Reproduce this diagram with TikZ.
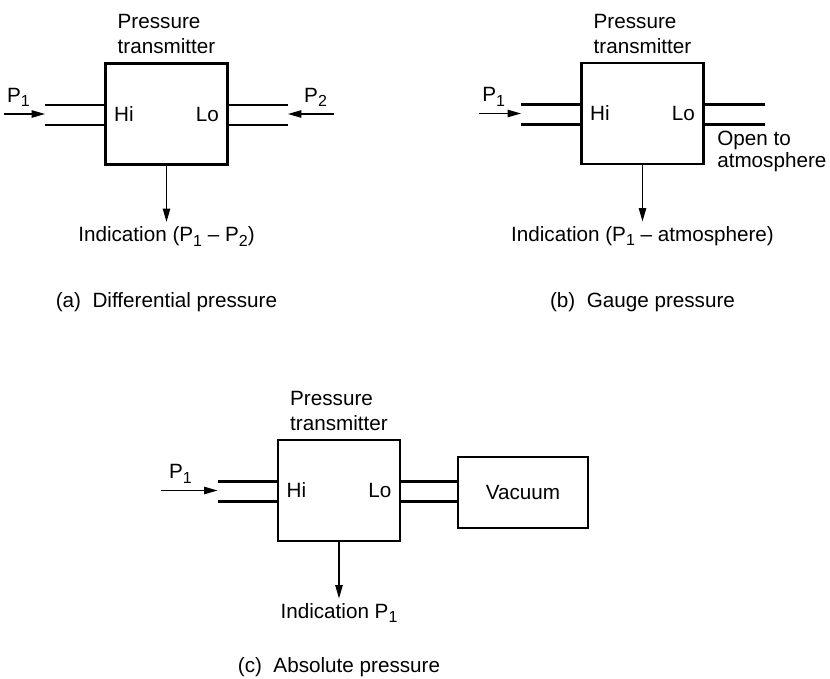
\documentclass[tikz,border=0pt]{standalone}
\usepackage{fontspec}
\setmainfont{Liberation Sans}
\usetikzlibrary{arrows.meta,positioning}
\newcommand\psub[1]{\raisebox{-3.5pt}{\fontsize{12}{12}\selectfont #1}}

\begin{document}
\begin{tikzpicture}[x=0.75pt,y=-0.75pt,
		every node/.style={font=\fontsize{15.5}{18.75}\selectfont},
		tbox/.style={draw, line width=2.2pt, minimum width=91.5pt, minimum height=75.75pt},
		pipe/.style={line width=1.6pt},
		arr/.style={line width=1pt, -{Triangle[length=10pt,width=5.5pt]}}]
		\useasboundingbox (0,0) rectangle (830,678);
		
		% transmitters with Hi side: name/x/y/arrow length
		\foreach \p/\x/\y/\s in {a/166.5/114/41, b/642.5/113.5/42, c/339/490.5/57}{
			\node[tbox] (t\p) at (\x,\y) {};
			\node[above=2.5pt of t\p, align=left] (name\p) {Pressure\\transmitter};
			\node[anchor=west, xshift=4pt] (hi\p) at (t\p.west) {Hi};
			\node[anchor=east, xshift=-4pt] (lo\p) at (t\p.east) {Lo};
			\draw[pipe] ([yshift=6.75pt]t\p.west) -- ++(-59,0);
			\draw[pipe] ([yshift=-8.25pt]t\p.west) -- ++(-59,0);
			\coordinate (inlet\p) at ([xshift=-44.25pt]t\p.west);
			\coordinate (src\p) at ([xshift=-\s*0.75pt]inlet\p);
			\draw[arr] (src\p) -- (inlet\p) node[pos=0.35, above=1.5pt] (pone\p) {P\psub{1}};
		}
		
		% (a) Lo side open to P2
		\foreach \dy in {6.75pt, -8.25pt}{
			\draw[pipe] ([yshift=\dy]ta.east) -- ++(59,0);
		}
		\coordinate (outleta) at ([xshift=44.25pt]ta.east);
		\coordinate (srcp2) at ([xshift=34.5pt]outleta);
		\draw[arr] (srcp2) -- (outleta) node[pos=0.4, above=1.5pt] (ptwo) {P\psub{2}};
		\node[below=42pt of ta] (inda) {Indication (P\psub{1} -- P\psub{2})};
		\draw[arr] (ta.south) -- (ta.south |- inda.north);
		\node[anchor=base] (capa) at (166.5,307) {(a)~~Differential pressure};
		
		% (b) Lo side open to atmosphere
		\foreach \dy in {6.75pt, -8.25pt}{
			\draw[pipe] ([yshift=\dy]tb.east) -- ++(60,0);
		}
		\node[anchor=north west, align=left, inner sep=0pt,
			font=\fontsize{15.5}{16}\selectfont] (open) at (717,131) {Open to\\atmosphere};
		\node[below=42pt of tb] (indb) {Indication (P\psub{1} -- atmosphere)};
		\draw[arr] (tb.south) -- (tb.south |- indb.north);
		\node[anchor=base] (capb) at (642.5,307) {(b)~~Gauge pressure};
		
		% (c) Lo side to vacuum
		\node[tbox, minimum width=97.5pt, minimum height=53.25pt] (vac) at (523,492.5) {Vacuum};
		\coordinate (cup) at ([yshift=6.75pt]tc.east);
		\coordinate (clow) at ([yshift=-8.25pt]tc.east);
		\draw[pipe] (cup) -- (cup -| vac.west);
		\draw[pipe] (clow) -- (clow -| vac.west);
		\node[below=42pt of tc] (indc) {Indication P\psub{1}};
		\draw[arr] (tc.south) -- (tc.south |- indc.north);
		\node[anchor=base] (capc) at (339,672) {(c)~~Absolute pressure};
	\end{tikzpicture}
\end{document}
